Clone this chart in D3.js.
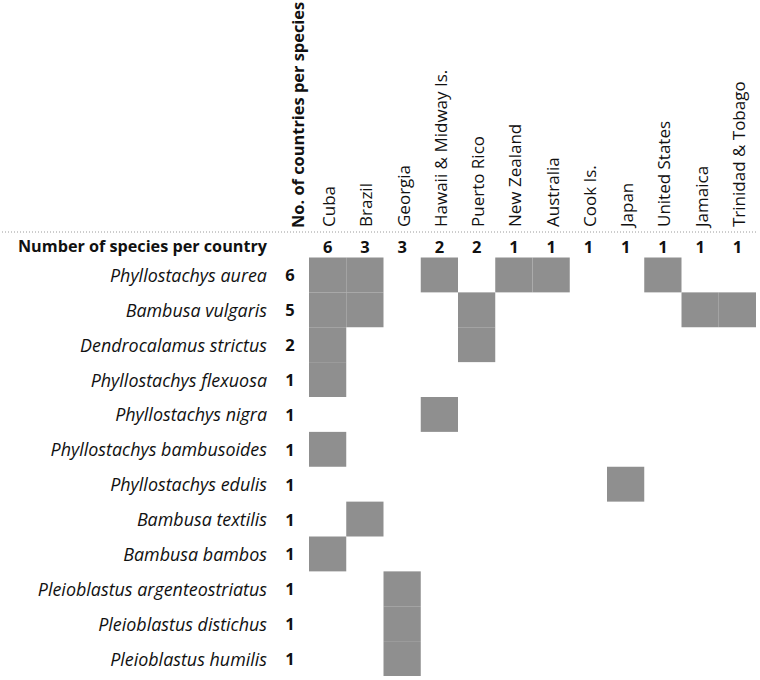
<!DOCTYPE html>
<html>
<head>
<meta charset="utf-8">
<script src="https://cdn.jsdelivr.net/npm/d3@7"></script>
<style>
  html, body { margin: 0; padding: 0; background: #fff; }
  svg { display: block; font-family: "Open Sans", Lato, sans-serif; }
</style>
</head>
<body>
<svg id="chart" width="760" height="680"></svg>
<script>
// ---- data ----
const countries = ["Cuba", "Brazil", "Georgia", "Hawaii & Midway Is.", "Puerto Rico",
  "New Zealand", "Australia", "Cook Is.", "Japan", "United States", "Jamaica", "Trinidad & Tobago"];
const speciesPerCountry = [6, 3, 3, 2, 2, 1, 1, 1, 1, 1, 1, 1];

const species = ["Phyllostachys aurea", "Bambusa vulgaris", "Dendrocalamus strictus",
  "Phyllostachys flexuosa", "Phyllostachys nigra", "Phyllostachys bambusoides",
  "Phyllostachys edulis", "Bambusa textilis", "Bambusa bambos",
  "Pleioblastus argenteostriatus", "Pleioblastus distichus", "Pleioblastus humilis"];
const countriesPerSpecies = [6, 5, 2, 1, 1, 1, 1, 1, 1, 1, 1, 1];

const presence = [
  ["Cuba", "Brazil", "Hawaii & Midway Is.", "New Zealand", "Australia", "United States"],
  ["Cuba", "Brazil", "Puerto Rico", "Jamaica", "Trinidad & Tobago"],
  ["Cuba", "Puerto Rico"],
  ["Cuba"],
  ["Hawaii & Midway Is."],
  ["Cuba"],
  ["Japan"],
  ["Brazil"],
  ["Cuba"],
  ["Georgia"],
  ["Georgia"],
  ["Georgia"]
];

const rowHeader = "Number of species per country";
const colHeader = "No. of countries per species";

// ---- drawing ----
const svg = d3.select("#chart");
const x = d3.scaleBand().domain(countries).range([309, 756]);
const y = d3.scaleBand().domain(species).range([257.5, 676]);

const cells = [];
species.forEach((s, i) => presence[i].forEach(c => cells.push({ s, c })));

svg.append("g").selectAll("rect").data(cells).join("rect")
  .attr("x", d => x(d.c))
  .attr("y", d => y(d.s))
  .attr("width", x.bandwidth())
  .attr("height", y.bandwidth())
  .attr("fill", "#8f8f8f");

// dotted separator
svg.append("line")
  .attr("x1", 2).attr("x2", 758)
  .attr("y1", 232).attr("y2", 232)
  .attr("stroke", "#9a9a9a")
  .attr("stroke-width", 1)
  .attr("stroke-dasharray", "1,2");

// column labels
svg.append("g").selectAll("text").data(countries).join("text")
  .attr("transform", d => `translate(${x(d) + x.bandwidth() / 2 + 1},227) rotate(-90)`)
  .attr("dominant-baseline", "central")
  .attr("font-size", 17)
  .attr("fill", "#111")
  .text(d => d);

// column counts
svg.append("g").selectAll("text").data(countries).join("text")
  .attr("x", d => x(d) + x.bandwidth() / 2)
  .attr("y", 246)
  .attr("text-anchor", "middle")
  .attr("dominant-baseline", "central")
  .attr("font-size", 16.5)
  .attr("font-weight", "bold")
  .attr("fill", "#111")
  .text((d, i) => speciesPerCountry[i]);

// row header
svg.append("text")
  .attr("x", 267).attr("y", 246)
  .attr("text-anchor", "end")
  .attr("dominant-baseline", "central")
  .attr("font-size", 16.2)
  .attr("font-weight", "bold")
  .attr("fill", "#111")
  .text(rowHeader);

// column header (rotated)
svg.append("text")
  .attr("transform", "translate(297,228) rotate(-90)")
  .attr("dominant-baseline", "central")
  .attr("font-size", 16.4)
  .attr("font-weight", "bold")
  .attr("fill", "#111")
  .text(colHeader);

// row labels
svg.append("g").selectAll("text").data(species).join("text")
  .attr("x", 267)
  .attr("y", d => y(d) + y.bandwidth() / 2)
  .attr("text-anchor", "end")
  .attr("dominant-baseline", "central")
  .attr("font-size", 17.9)
  .attr("font-style", "italic")
  .attr("fill", "#111")
  .text(d => d);

// row counts
svg.append("g").selectAll("text").data(species).join("text")
  .attr("x", 290)
  .attr("y", d => y(d) + y.bandwidth() / 2)
  .attr("text-anchor", "middle")
  .attr("dominant-baseline", "central")
  .attr("font-size", 16.5)
  .attr("font-weight", "bold")
  .attr("fill", "#111")
  .text((d, i) => countriesPerSpecies[i]);
</script>
</body>
</html>
